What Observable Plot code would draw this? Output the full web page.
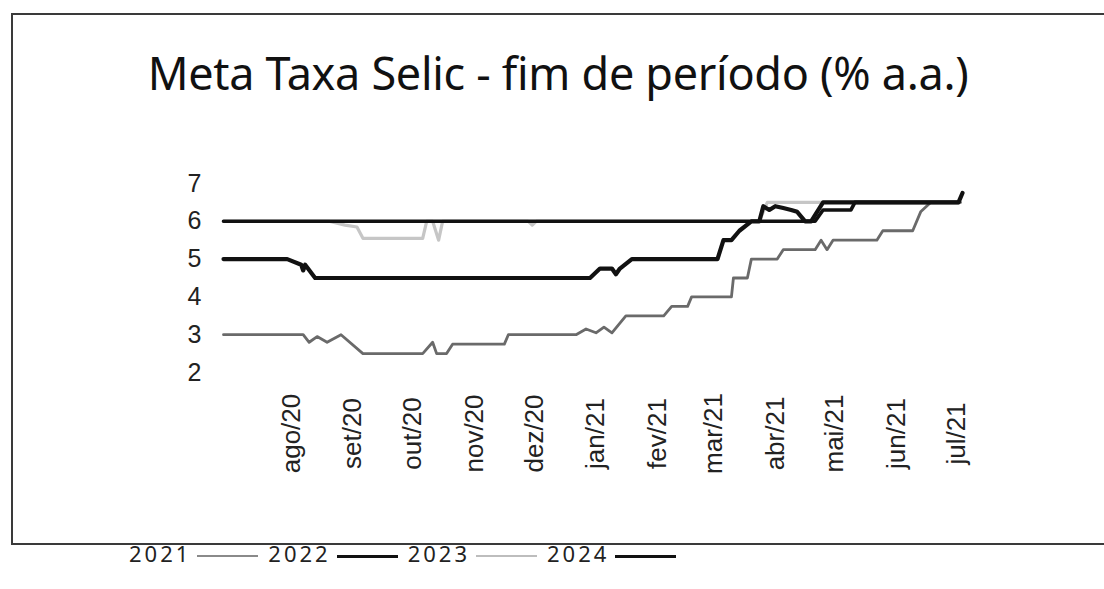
<!DOCTYPE html>
<html><head><meta charset="utf-8">
<script src="https://cdn.jsdelivr.net/npm/d3@7"></script>
<script src="https://cdn.jsdelivr.net/npm/@observablehq/plot@0.6"></script>
<style>
html,body{margin:0;padding:0;background:#fff}
body{width:1104px;height:589px;overflow:hidden;position:relative;font-family:"Noto Sans",sans-serif;color:#111}
#box{position:absolute;left:11px;top:13px;width:1100px;height:528px;border:2px solid #3a3a3a;border-right:none}
#title{position:absolute;left:0;width:1116px;top:45px;text-align:center;font-size:45px;line-height:56px;color:#111;white-space:nowrap;letter-spacing:-0.3px}
#chart{position:absolute;left:0;top:150px}
#legend{position:absolute;left:129px;top:540px;font-size:22px;line-height:26px;white-space:nowrap;color:#222;letter-spacing:3px}
#legend span.sw{display:inline-block;width:61px;vertical-align:middle;margin:0 10px 0 6px}
</style>
</head><body>
<div id="box"></div>
<div id="title">Meta Taxa Selic - fim de período (% a.a.)</div>
<div id="chart"></div>
<div id="legend"></div>
<script>
const seriesNames = ["2021", "2022", "2023", "2024"];
const seriesColors = ["#6a6a6a", "#111111", "#c6c6c6", "#111111"];
const seriesWidths = [2.8, 4.2, 3.2, 3.6];
const legendWidths = [2, 3, 2, 3];

const dates2021 = ["2020-06-28","2020-08-07","2020-08-10","2020-08-14","2020-08-19","2020-08-26","2020-09-06","2020-10-06","2020-10-11","2020-10-13","2020-10-18","2020-10-21","2020-11-16","2020-11-18","2020-12-22","2020-12-27","2021-01-01","2021-01-05","2021-01-09","2021-01-16","2021-02-04","2021-02-08","2021-02-16","2021-02-18","2021-03-10","2021-03-11","2021-03-18","2021-03-20","2021-04-02","2021-04-05","2021-04-21","2021-04-24","2021-04-27","2021-04-30","2021-05-22","2021-05-25","2021-06-09","2021-06-13","2021-06-18","2021-07-03"];
const values2021 = [3,3,2.8,2.95,2.8,3,2.5,2.5,2.8,2.5,2.5,2.75,2.75,3,3,3.15,3.05,3.2,3.05,3.5,3.5,3.75,3.75,4,4,4.5,4.5,5,5,5.25,5.25,5.5,5.25,5.5,5.5,5.75,5.75,6.25,6.5,6.5];

const dates2022 = ["2020-06-28","2020-07-30","2020-08-06","2020-08-07","2020-08-08","2020-08-13","2020-12-29","2021-01-03","2021-01-09","2021-01-11","2021-01-13","2021-01-19","2021-03-03","2021-03-06","2021-03-10","2021-03-14","2021-03-20","2021-03-24","2021-03-26","2021-03-29","2021-04-01","2021-04-05","2021-04-09","2021-04-12","2021-04-16","2021-04-19","2021-04-25","2021-07-02","2021-07-04"];
const values2022 = [5,5,4.85,4.7,4.85,4.5,4.5,4.75,4.75,4.6,4.75,5,5,5.5,5.5,5.75,6,6,6.4,6.3,6.4,6.35,6.3,6.25,6,6,6.5,6.5,6.75];

const dates2023 = ["2020-06-28","2020-08-20","2020-08-28","2020-09-03","2020-09-06","2020-10-06","2020-10-08","2020-10-11","2020-10-14","2020-10-16","2020-11-28","2020-11-30","2020-12-02","2021-03-24","2021-03-28","2021-07-02"];
const values2023 = [6,6,5.9,5.85,5.55,5.55,6,6,5.5,6,6,5.9,6,6,6.5,6.5];

const dates2024 = ["2020-06-28","2021-04-21","2021-04-25","2021-05-09","2021-05-11","2021-07-02"];
const values2024 = [6,6,6.3,6.3,6.5,6.5];

const monthTicks = ["2020-08-01","2020-09-01","2020-10-01","2020-11-01","2020-12-01","2021-01-01","2021-02-01","2021-03-01","2021-04-01","2021-05-01","2021-06-01","2021-07-01"];
const monthLabels = ["ago/20","set/20","out/20","nov/20","dez/20","jan/21","fev/21","mar/21","abr/21","mai/21","jun/21","jul/21"];
const yTicks = [2, 3, 4, 5, 6, 7];

const parse = d3.utcParse("%Y-%m-%d");
const allDates = [dates2021, dates2022, dates2023, dates2024];
const allValues = [values2021, values2022, values2023, values2024];
const series = seriesNames.map((name, k) =>
  allDates[k].map((d, i) => ({serie: name, date: parse(d), value: allValues[k][i]})));
const tickRows = monthTicks.map((d, i) => ({date: parse(d), label: monthLabels[i]}));

const drawOrder = [2, 0, 3, 1];
const chart = Plot.plot({
  width: 1104, height: 380,
  marginLeft: 223, marginRight: 142, marginTop: 33, marginBottom: 158,
  style: {fontFamily: "'Liberation Sans', Arial, sans-serif", fontSize: "24px", color: "#222", background: "transparent"},
  x: {type: "utc", domain: [parse("2020-06-28"), parse("2021-07-04")], axis: null},
  y: {domain: [2, 7], axis: null},
  marks: [
    ...drawOrder.map(k => Plot.line(series[k], {x: "date", y: "value", stroke: seriesColors[k], strokeWidth: seriesWidths[k], strokeLinejoin: "round"})),
    Plot.axisY({ticks: yTicks, tickFormat: d3.format("d"), label: null, tickSize: 0, tickPadding: 22, fontSize: 25}),
    Plot.text(tickRows, {x: "date", text: "label", frameAnchor: "bottom", rotate: -90, dy: 61, fontSize: 26, textAnchor: "middle", lineAnchor: "middle", fill: "#222"})
  ]
});
document.getElementById("chart").appendChild(chart);

const legend = document.getElementById("legend");
seriesNames.forEach((name, k) => {
  const t = document.createElement("span");
  t.textContent = name;
  legend.appendChild(t);
  const s = document.createElement("span");
  s.className = "sw";
  s.style.borderTop = legendWidths[k] + "px solid " + (k === 2 ? "#bdbdbd" : k === 0 ? "#8a8a8a" : "#111");
  legend.appendChild(s);
});
</script>
</body></html>
